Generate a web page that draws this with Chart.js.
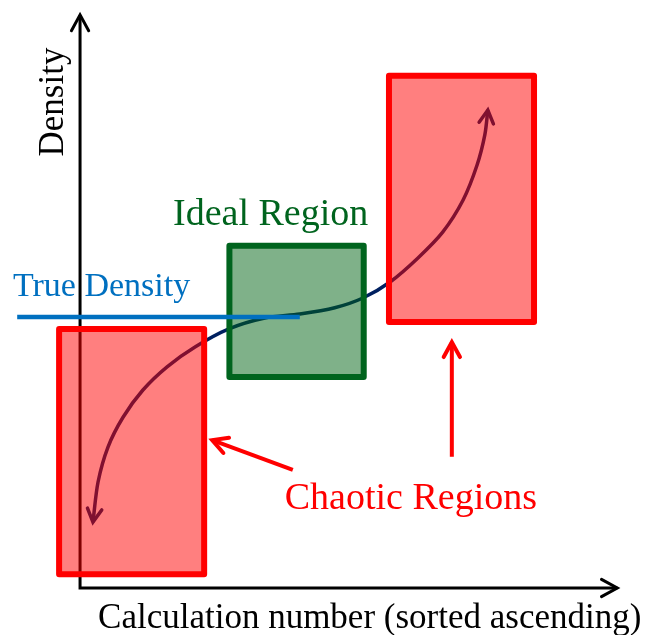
<!DOCTYPE html>
<html>
<head>
<meta charset="utf-8">
<script src="https://cdn.jsdelivr.net/npm/chart.js@4.4.1/dist/chart.umd.min.js"></script>
<style>
  html, body { margin: 0; padding: 0; background: #fff; }
  #wrap { width: 649px; height: 635px; position: relative; }
</style>
</head>
<body>
<div id="wrap"><canvas id="chart"></canvas></div>
<script>
// Diagram units: both axes run 0..100
const axisX = [0, 0, 100];
const axisY = [100, 0, 0];

// Sorted calculation results (density estimate)
const curveX = [2.4, 3.35, 5.2, 8.0, 11.7, 16.2, 21.4, 27.7, 34.4, 40.9,
  47.4, 52.65, 57.7, 62.9, 67.5, 71.3, 73.9, 75.35, 75.9];
const curveY = [11.5, 18.5, 24.6, 29.8, 34.55, 38.6, 42.05, 45.2, 47.1, 47.8,
  48.9, 50.6, 53.4, 57.6, 62.1, 67.7, 73.8, 79.1, 83.4];

// Regions: chaotic (low), ideal, chaotic (high)
const regionX0 = [-3.9, 27.8, 57.5];
const regionX1 = [23.1, 52.8, 84.5];
const regionY0 = [2.4, 36.8, 46.4];
const regionY1 = [45.2, 59.7, 89.4];

// True density reference line
const trueDensity = 47.3;
const trueDensityX = [-11.7, 40.9];

// Pointers from the "Chaotic Regions" label
const pointerFromX = [39.6, 69.2];
const pointerFromY = [20.6, 22.9];
const pointerToX = [24.6, 69.2];
const pointerToY = [25.8, 42.9];

const labelTexts = ['True Density', 'Ideal Region', 'Chaotic Regions'];
const labelX = [-12.5, 17.3, 38.1];
const labelY = [51.0, 63.4, 13.8];
const xTitle = 'Calculation number (sorted ascending)';
const yTitle = 'Density';

const RED = '#FF0000';
const GREEN = '#00641E';
const BLUE = '#0070C0';
const NAVY = '#002060';
const SERIF = '"Liberation Serif", "Times New Roman", serif';
const labelColors = [BLUE, GREEN, RED];
const labelSizes = [34, 38, 38];

const zip = (xs, ys) => xs.map((v, i) => ({ x: v, y: ys[i] }));

const datasets = [];
datasets.push({
  data: zip(axisX, axisY), borderColor: '#000', borderWidth: 3,
  arrowStart: true, arrowEnd: true, arrowSize: 18, order: 7
});
datasets.push({
  data: zip(curveX, curveY), borderColor: NAVY, borderWidth: 3.5,
  tension: 0.3, arrowStart: true, arrowEnd: true, arrowSize: 15, order: 6
});
regionX0.forEach((x0, i) => {
  const fillCol = i === 1 ? 'rgba(0,100,20,0.5)' : 'rgba(255,0,0,0.5)';
  const lineCol = i === 1 ? GREEN : RED;
  // fill: top edge filled down to the bottom value
  datasets.push({
    data: [{ x: x0, y: regionY1[i] }, { x: regionX1[i], y: regionY1[i] }],
    borderWidth: 0, borderColor: 'rgba(0,0,0,0)', backgroundColor: fillCol,
    fill: { value: regionY0[i] }, order: 5
  });
  // outline
  datasets.push({
    data: [
      { x: x0, y: regionY0[i] }, { x: x0, y: regionY1[i] },
      { x: regionX1[i], y: regionY1[i] }, { x: regionX1[i], y: regionY0[i] },
      { x: x0, y: regionY0[i] }
    ],
    borderColor: lineCol, borderWidth: 6, borderJoinStyle: 'round', borderCapStyle: 'round', order: 4
  });
});
datasets.push({
  data: trueDensityX.map(v => ({ x: v, y: trueDensity })),
  borderColor: BLUE, borderWidth: 4.5, order: 3
});
pointerFromX.forEach((x0, i) => {
  datasets.push({
    data: [{ x: x0, y: pointerFromY[i] }, { x: pointerToX[i], y: pointerToY[i] }],
    borderColor: RED, borderWidth: 4, arrowEnd: true, arrowSize: 17, order: 2
  });
});

const arrowHeads = {
  id: 'arrowHeads',
  afterDatasetDraw(chart, args) {
    const ds = chart.data.datasets[args.index];
    if (!ds.arrowStart && !ds.arrowEnd) return;
    const pts = args.meta.data;
    const ctx = chart.ctx;
    const head = (tip, from) => {
      const a = Math.atan2(tip.y - from.y, tip.x - from.x);
      const len = ds.arrowSize || 16;
      const spread = 0.5;
      ctx.beginPath();
      ctx.moveTo(tip.x - len * Math.cos(a - spread), tip.y - len * Math.sin(a - spread));
      ctx.lineTo(tip.x, tip.y);
      ctx.lineTo(tip.x - len * Math.cos(a + spread), tip.y - len * Math.sin(a + spread));
      ctx.stroke();
    };
    ctx.save();
    ctx.strokeStyle = ds.borderColor;
    ctx.lineWidth = ds.borderWidth;
    ctx.lineCap = 'round';
    ctx.lineJoin = 'miter';
    if (ds.arrowStart) head(pts[0], pts[1]);
    if (ds.arrowEnd) head(pts[pts.length - 1], pts[pts.length - 2]);
    ctx.restore();
  }
};

const diagramText = {
  id: 'diagramText',
  afterDatasetsDraw(chart) {
    const { ctx, scales: { x, y } } = chart;
    ctx.save();
    ctx.textBaseline = 'alphabetic';
    ctx.textAlign = 'left';
    labelTexts.forEach((t, i) => {
      ctx.font = labelSizes[i] + 'px ' + SERIF;
      ctx.fillStyle = labelColors[i];
      ctx.fillText(t, x.getPixelForValue(labelX[i]), y.getPixelForValue(labelY[i]));
    });
    ctx.font = '35px ' + SERIF;
    ctx.fillStyle = '#000';
    ctx.fillText(xTitle, x.getPixelForValue(3.35), y.getPixelForValue(-7.0));
    ctx.translate(x.getPixelForValue(-3.2), y.getPixelForValue(84.8));
    ctx.rotate(-Math.PI / 2);
    ctx.textAlign = 'center';
    ctx.fillText(yTitle, 0, 0);
    ctx.restore();
  }
};

function draw() {
  new Chart(document.getElementById('chart'), {
    type: 'scatter',
    data: { datasets: datasets.map(d => Object.assign({ showLine: true, pointRadius: 0, fill: false }, d)) },
    options: {
      responsive: true,
      maintainAspectRatio: false,
      animation: false,
      events: [],
      layout: { padding: 0 },
      plugins: { legend: { display: false }, tooltip: { enabled: false } },
      scales: {
        x: { type: 'linear', display: false, min: -14.9, max: 105.9 },
        y: { type: 'linear', display: false, min: -8.2, max: 102.6 }
      }
    },
    plugins: [arrowHeads, diagramText]
  });
}

if (document.fonts && document.fonts.load) {
  document.fonts.load('35px "Liberation Serif"').then(draw, draw);
} else {
  draw();
}
</script>
</body>
</html>
